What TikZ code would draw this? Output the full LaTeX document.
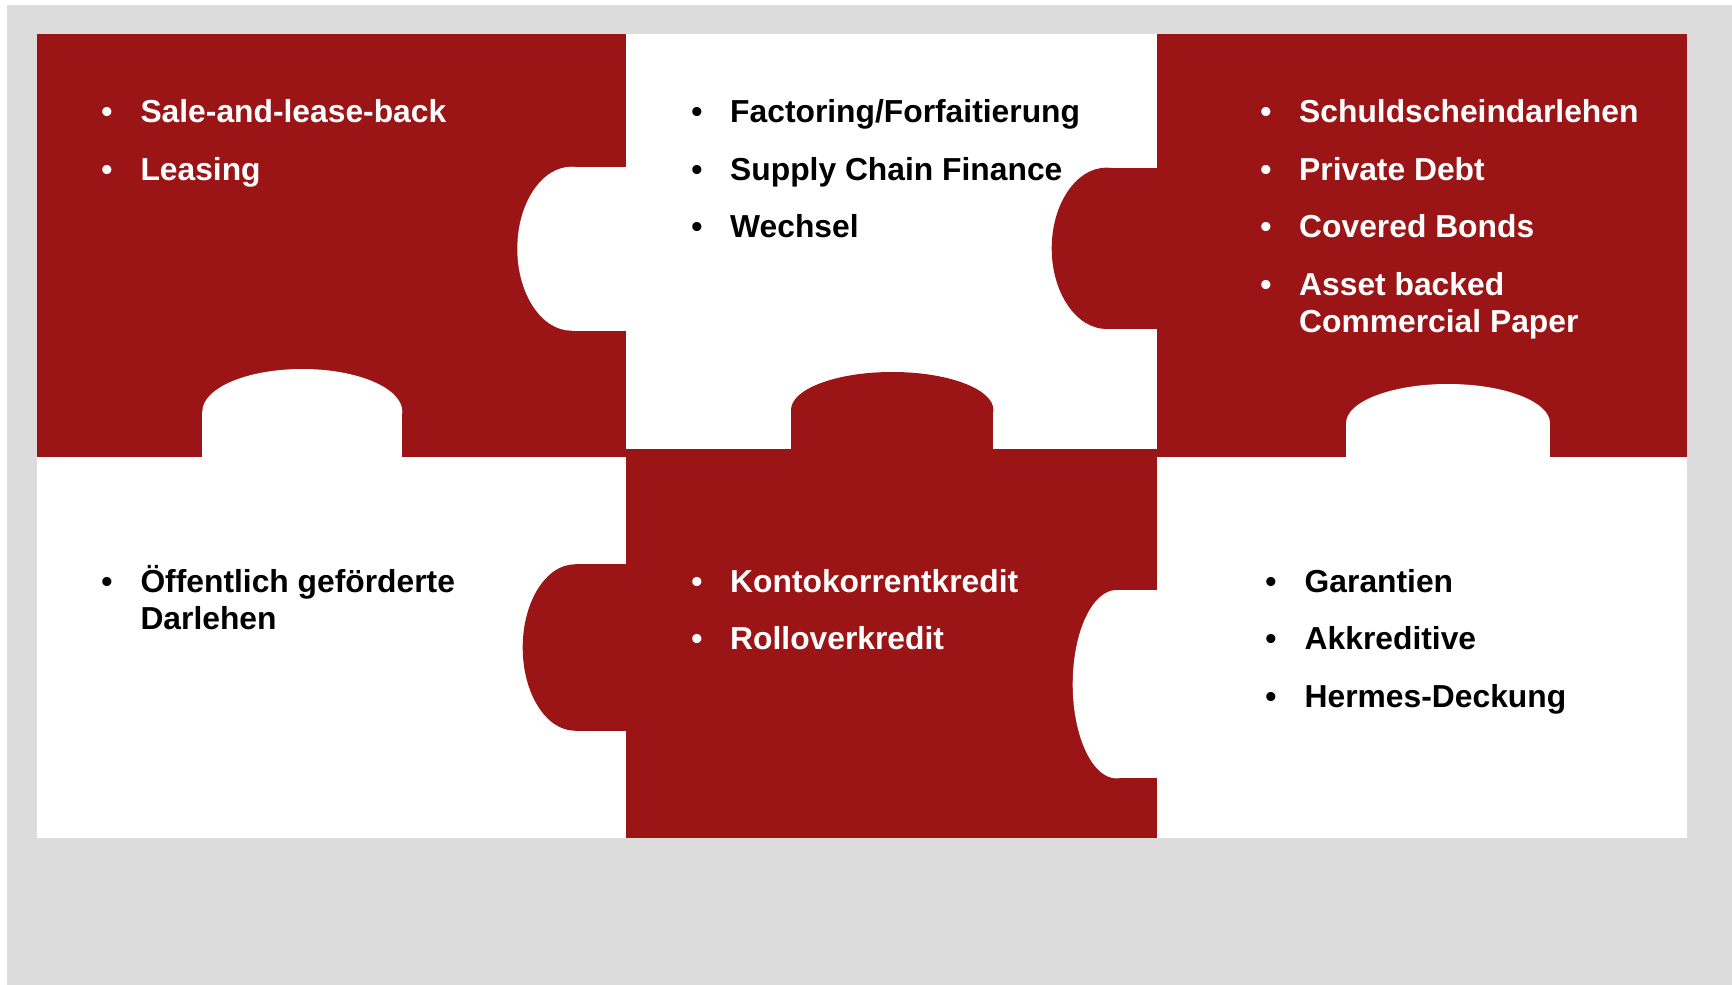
\documentclass[tikz,border=0pt]{standalone}
\usepackage{fontspec}
\setmainfont{Liberation Sans}
\definecolor{puzred}{RGB}{155,21,22}
\definecolor{bggray}{RGB}{220,220,220}
\newcommand{\itemfont}{\fontsize{31.8}{37.6}\selectfont\bfseries}

\begin{document}
\begin{tikzpicture}[x=1pt,y=1pt,yscale=-1,xscale=1,
  txt/.style={anchor=base west,inner sep=0pt,font=\itemfont,align=left},
  dot/.style={anchor=base,inner sep=0pt,font=\itemfont}]
\useasboundingbox (0,0) rectangle (1732,985);

%Shape: Rectangle (grey frame)
\fill [bggray] (7,5) rectangle (1732,985);
%Shape: Rectangle (white board)
\fill [white] (36.5,34) rectangle (1687,838);

%Shape: Red pieces
\fill [puzred] (36.5,34) rectangle (626,457);
\fill [puzred] (1156.5,34) rectangle (1687,457);
\fill [puzred] (626,449) rectangle (1156.5,838);
%Shape: Red knobs
\fill [puzred] (1106.7,167.7) rectangle (1157,329);
\fill [puzred] (1106.7,248.3) ellipse [x radius=55pt, y radius=80.7pt];
\fill [puzred] (791,410) rectangle (993.3,450);
\fill [puzred] (892.2,410) ellipse [x radius=101.2pt, y radius=38pt];
\fill [puzred] (575,564.3) rectangle (627,730.7);
\fill [puzred] (575,647.5) ellipse [x radius=52.3pt, y radius=83.2pt];
%Shape: White knobs
\fill [white] (571.7,166.7) rectangle (626,330.7);
\fill [white] (571.7,248.7) ellipse [x radius=54.4pt, y radius=82pt];
\fill [white] (202.3,411.7) rectangle (402.3,457);
\fill [white] (302.3,411.7) ellipse [x radius=100pt, y radius=42.7pt];
\fill [white] (1346,423.3) rectangle (1550,457);
\fill [white] (1448,423.3) ellipse [x radius=102pt, y radius=39.3pt];
\fill [white] (1116.7,590) rectangle (1156.5,778.3);
\fill [white] (1116.7,684.2) ellipse [x radius=44pt, y radius=94.2pt];

% Text Node
\draw (107,122.5) node (b11) [dot,white] {\textbullet};
\draw (140.3,122.5) node (t11) [txt,white] {Sale-and-lease-back};
% Text Node
\draw (107,180) node (b12) [dot,white] {\textbullet};
\draw (140.3,180) node (t12) [txt,white] {Leasing};

% Text Node
\draw (697,122.5) node (b21) [dot] {\textbullet};
\draw (730,122.5) node (t21) [txt] {Factoring/Forfaitierung};
% Text Node
\draw (697,180) node (b22) [dot] {\textbullet};
\draw (730,180) node (t22) [txt] {Supply Chain Finance};
% Text Node
\draw (697,237.5) node (b23) [dot] {\textbullet};
\draw (730,237.5) node (t23) [txt] {Wechsel};

% Text Node
\draw (1266,122.5) node (b31) [dot,white] {\textbullet};
\draw (1299,122.5) node (t31) [txt,white] {Schuldscheindarlehen};
% Text Node
\draw (1266,180) node (b32) [dot,white] {\textbullet};
\draw (1299,180) node (t32) [txt,white] {Private Debt};
% Text Node
\draw (1266,237.5) node (b33) [dot,white] {\textbullet};
\draw (1299,237.5) node (t33) [txt,white] {Covered Bonds};
% Text Node (base = last line)
\draw (1266,295) node (b34) [dot,white] {\textbullet};
\draw (1299,332.6) node (t34) [txt,white] {Asset backed\\Commercial Paper};

% Text Node (base = last line)
\draw (107,592) node (b41) [dot] {\textbullet};
\draw (140.3,629.6) node (t41) [txt] {Öffentlich geförderte\\Darlehen};

% Text Node
\draw (697,592) node (b51) [dot,white] {\textbullet};
\draw (730,592) node (t51) [txt,white] {Kontokorrentkredit};
% Text Node
\draw (697,649.5) node (b52) [dot,white] {\textbullet};
\draw (730,649.5) node (t52) [txt,white] {Rolloverkredit};

% Text Node
\draw (1271,592) node (b61) [dot] {\textbullet};
\draw (1304.5,592) node (t61) [txt] {Garantien};
% Text Node
\draw (1271,649.5) node (b62) [dot] {\textbullet};
\draw (1304.5,649.5) node (t62) [txt] {Akkreditive};
% Text Node
\draw (1271,707) node (b63) [dot] {\textbullet};
\draw (1304.5,707) node (t63) [txt] {Hermes-Deckung};

\end{tikzpicture}
\end{document}
